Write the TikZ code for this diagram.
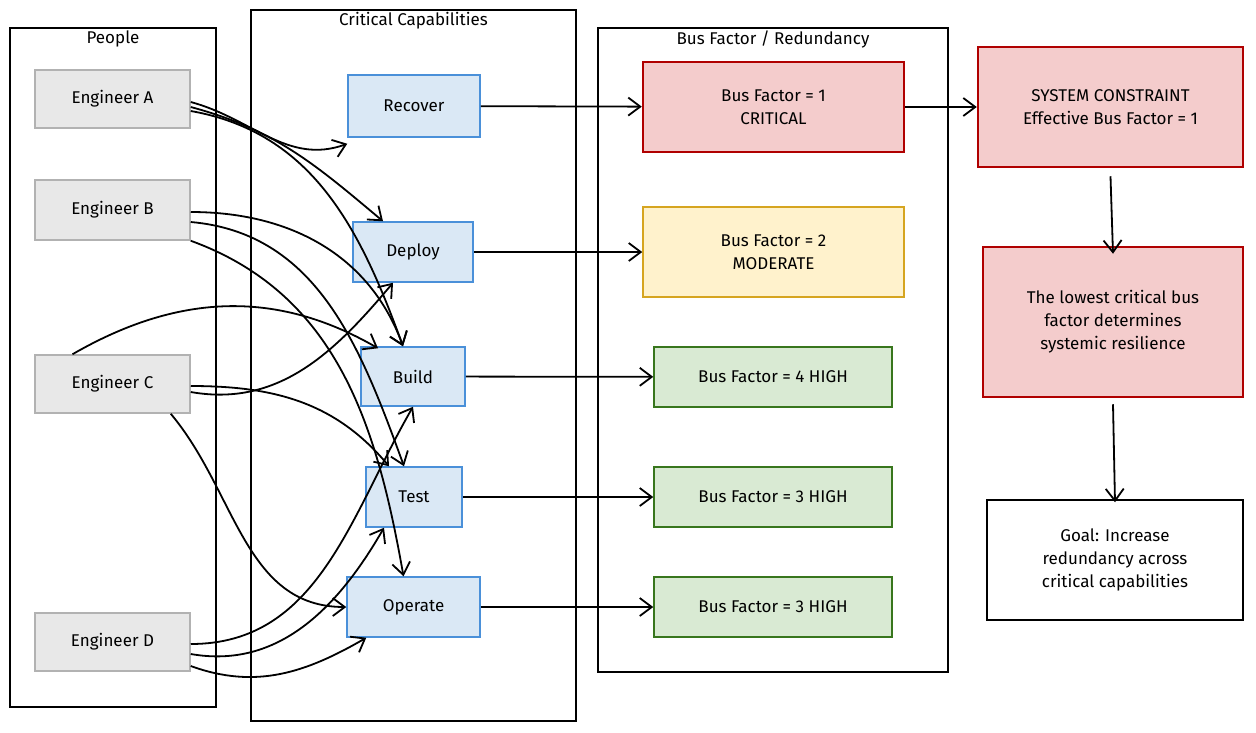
\documentclass[tikz,border=0pt]{standalone}
\usepackage{fontspec}
\setmainfont{Fira Sans}
\usetikzlibrary{arrows.meta}
\definecolor{capfill}{HTML}{DAE8F5}\definecolor{capline}{HTML}{4A90D9}
\definecolor{redfill}{HTML}{F4CCCC}\definecolor{redline}{HTML}{B00000}
\definecolor{yelfill}{HTML}{FFF2CC}\definecolor{yelline}{HTML}{D6A520}
\definecolor{grnfill}{HTML}{D9EAD3}\definecolor{grnline}{HTML}{38761D}
\tikzset{
  every node/.style={font=\fontsize{17}{23}\selectfont},
  frame/.style={draw, line width=1.5pt, inner sep=0pt},
  eng/.style={draw=gray!60, fill=gray!18, line width=1.5pt, inner sep=0pt},
  capability/.style={draw=capline, fill=capfill, line width=1.5pt, inner sep=0pt},
  crit/.style={draw=redline, fill=redfill, line width=2.5pt, inner sep=0pt, align=center},
  mod/.style={draw=yelline, fill=yelfill, line width=1.5pt, inner sep=0pt, align=center},
  high/.style={draw=grnline, fill=grnfill, line width=1.5pt, inner sep=0pt, align=center},
  link/.style={-{Straight Barb[length=12pt,width=18pt]}, line width=1.8pt},
}
\newcommand{\boxat}[6]{\node[#1, minimum width=#4-#2, minimum height=#5-#3] (#6) at ({(#2+#4)/2},{(#3+#5)/2})}
\begin{document}
\begin{tikzpicture}[x=1pt, y=-1pt]
        \useasboundingbox (0,0) rectangle (1256,732);
        % Lanes
        \boxat{frame}{10}{28}{216}{707}{people} {};
        \boxat{frame}{251}{10}{576}{721}{caps} {};
        \boxat{frame}{598}{28}{948}{672}{bus} {};
        \node[below, inner sep=3pt] at (people.north) {People};
        \node[below, inner sep=3pt] at (caps.north) {Critical Capabilities};
        \node[below, inner sep=3pt] at (bus.north) {Bus Factor / Redundancy};

        % People
        \boxat{eng}{35}{70}{190}{128}{engA} {Engineer A};
        \boxat{eng}{35}{180}{190}{240}{engB} {Engineer B};
        \boxat{eng}{35}{355}{190}{413}{engC} {Engineer C};
        \boxat{eng}{35}{613}{190}{671}{engD} {Engineer D};

        % Capabilities
        \boxat{capability}{348}{75}{480}{137}{recover} {Recover};
        \boxat{capability}{353}{222}{473}{282}{deploy} {Deploy};
        \boxat{capability}{361}{347}{465}{406}{build} {Build};
        \boxat{capability}{366}{467}{462}{527}{test} {Test};
        \boxat{capability}{347}{577}{480}{637}{operate} {Operate};

        % Bus factors
        \boxat{crit}{643}{62}{904}{152}{bfRecover} {Bus Factor = 1\\CRITICAL};
        \boxat{mod}{643}{207}{904}{297}{bfDeploy} {Bus Factor = 2\\MODERATE};
        \boxat{high}{654}{347}{892}{407}{bfBuild} {Bus Factor = 4 HIGH};
        \boxat{high}{654}{467}{892}{527}{bfTest} {Bus Factor = 3 HIGH};
        \boxat{high}{654}{577}{892}{637}{bfOperate} {Bus Factor = 3 HIGH};

        % Conclusion
        \boxat{crit}{978}{47}{1243}{167}{system} {SYSTEM CONSTRAINT\\Effective Bus Factor = 1};
        \boxat{crit}{983}{247}{1243}{397}{lowest} {The lowest critical bus\\factor determines\\systemic resilience};
        \boxat{frame, align=center}{987}{500}{1243}{620}{goal} {Goal: Increase\\redundancy across\\critical capabilities};

        % Ownership links
        \draw[link] ([yshift=-12pt]engA.east) to[out=-10,in=110] ([xshift=-10pt]build.north);
        \draw[link] ([yshift=-3pt]engA.east) to[out=-15,in=200] ([yshift=-6pt]recover.south west);
        \draw[link] ([yshift=-8pt]engA.east) to[out=-15,in=140] ([xshift=-30pt]deploy.north);
        \draw[link] ([yshift=-2pt]engB.east) to[out=0,in=110] ([xshift=-10pt]build.north);
        \draw[link] ([yshift=-12pt]engB.east) to[out=-5,in=110] ([xshift=-10pt]test.north);
        \draw[link] (engB.south east) to[out=-20,in=100] ([xshift=-10pt]operate.north);
        \draw[link] ([xshift=-40pt]engC.north) to[out=30,in=150] ([xshift=-35pt,yshift=-2pt]build.north);
        \draw[link] ([yshift=-2pt]engC.east) to[out=0,in=130] ([xshift=-25pt]test.north);
        \draw[link] ([yshift=-8pt]engC.east) to[out=-10,in=230] ([xshift=-20pt]deploy.south);
        \draw[link] ([xshift=-20pt]engC.south east) to[out=-50,in=180] (operate.west);
        \draw[link] ([yshift=-2pt]engD.east) to[out=0,in=240] ([xshift=0pt]build.south);
        \draw[link] ([yshift=-12pt]engD.east) to[out=-10,in=240] ([xshift=-30pt]test.south);
        \draw[link] ([yshift=-24pt]engD.east) to[out=-20,in=210] ([xshift=20pt]operate.south west);

        % Bus factor links
        \draw[link] (recover) -- (bfRecover);
        \draw[link] (deploy) -- (bfDeploy);
        \draw[link] (build) -- (bfBuild);
        \draw[link] (test) -- (bfTest);
        \draw[link] (operate) -- (bfOperate);
        \draw[link] (bfRecover) -- (system);
        \draw[link] ([yshift=-8pt]system.south) -- ([yshift=-8pt]lowest.north);
        \draw[link] ([yshift=-6pt]lowest.south) -- ([yshift=-3pt]goal.north);
\end{tikzpicture}
\end{document}
